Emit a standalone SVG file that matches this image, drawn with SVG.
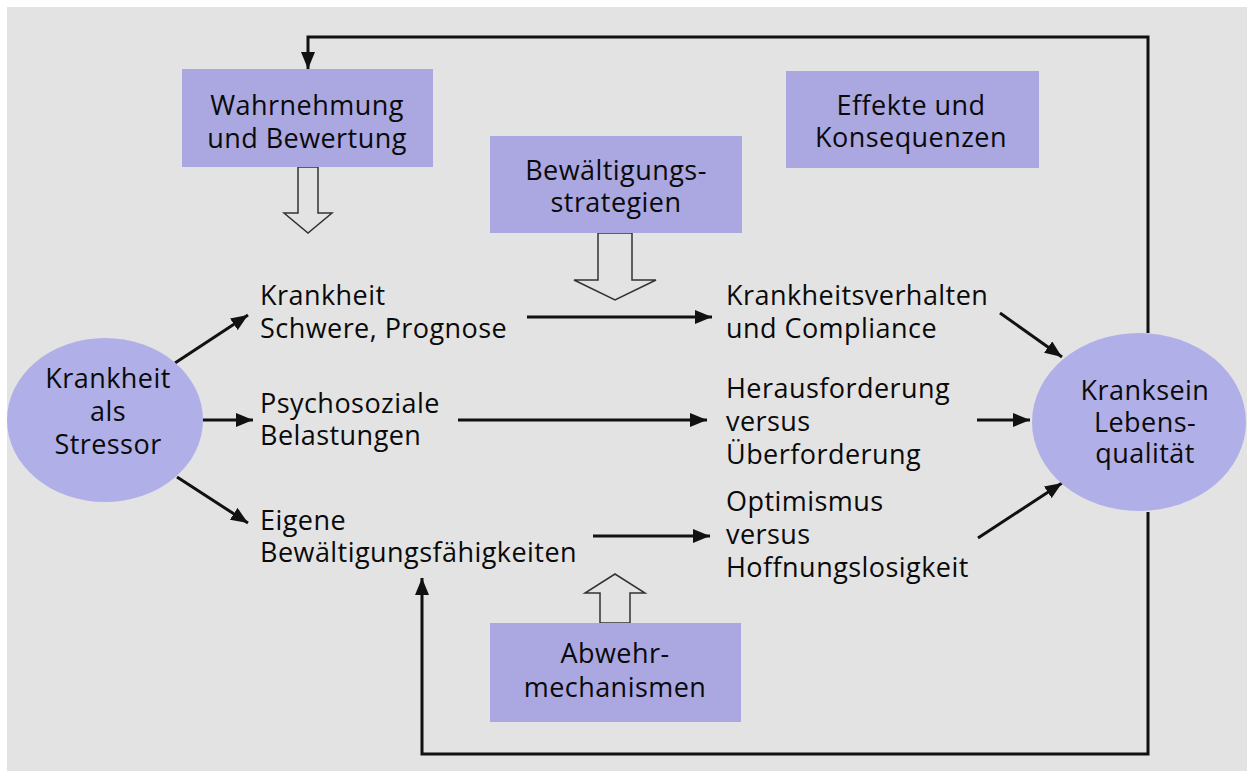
<svg xmlns="http://www.w3.org/2000/svg" width="1247" height="771" viewBox="0 0 1247 771">
<defs>
<style>
.bg{fill:#e3e3e3}
.box{fill:#aaa7e1}
.ell{fill:#b1afe7}
.t{font-family:"Open Sans","Noto Sans",sans-serif;font-size:27px;fill:#0a0a0a;letter-spacing:0.45px}
.c{text-anchor:middle}
.con{fill:none;stroke:#111;stroke-width:3}
.hol{fill:#e3e3e3;stroke:#333;stroke-width:1.5}
</style>
<marker id="ah" markerUnits="userSpaceOnUse" markerWidth="18" markerHeight="14" refX="17" refY="7" orient="auto">
<path d="M0,0 L17,7 L0,14 z" fill="#111"/>
</marker>
</defs>
<rect x="0" y="0" width="1247" height="771" fill="#ffffff"/>
<rect class="bg" x="7" y="7" width="1240" height="764"/>

<g id="connectors">
<line class="con" x1="175" y1="363" x2="248" y2="315" marker-end="url(#ah)"/>
<line class="con" x1="203" y1="420" x2="253" y2="420" marker-end="url(#ah)"/>
<line class="con" x1="177" y1="477" x2="248" y2="523" marker-end="url(#ah)"/>
<line class="con" x1="527" y1="317" x2="712" y2="317" marker-end="url(#ah)"/>
<line class="con" x1="458" y1="420" x2="707" y2="420" marker-end="url(#ah)"/>
<line class="con" x1="593" y1="536" x2="710" y2="536" marker-end="url(#ah)"/>
<line class="con" x1="1000" y1="313" x2="1062" y2="357" marker-end="url(#ah)"/>
<line class="con" x1="977" y1="420" x2="1030" y2="420" marker-end="url(#ah)"/>
<line class="con" x1="978" y1="538" x2="1062" y2="483" marker-end="url(#ah)"/>
<polyline class="con" points="1148,333 1148,37 308,37 308,69" marker-end="url(#ah)"/>
<polyline class="con" points="1148,512 1148,754 422,754 422,578" marker-end="url(#ah)"/>
<polygon class="hol" points="298,167 318,167 318,213 332,213 308,233 284,213 298,213"/>
<polygon class="hol" points="598,233 632,233 632,280 656,280 615,300 574,280 598,280"/>
<polygon class="hol" points="600,623 630,623 630,593 645,593 615,574 585,593 600,593"/>
</g>

<g id="stressor">
<ellipse class="ell" cx="105" cy="420" rx="98" ry="82"/>
<text class="t c" x="108" y="388">Krankheit</text>
<text class="t c" x="108" y="421">als</text>
<text class="t c" x="108" y="454">Stressor</text>
</g>

<g id="kranksein">
<ellipse class="ell" cx="1139" cy="422" rx="107" ry="89"/>
<text class="t c" x="1145" y="400">Kranksein</text>
<text class="t c" x="1145" y="432">Lebens-</text>
<text class="t c" x="1145" y="463">qualität</text>
</g>

<g id="wahrnehmung">
<rect class="box" x="182" y="69" width="251" height="98"/>
<text class="t c" x="307" y="115">Wahrnehmung</text>
<text class="t c" x="307" y="148">und Bewertung</text>
</g>

<g id="bewaeltigungsstrategien">
<rect class="box" x="490" y="136" width="252" height="97"/>
<text class="t c" x="616" y="180">Bewältigungs-</text>
<text class="t c" x="616" y="212">strategien</text>
</g>

<g id="effekte">
<rect class="box" x="786" y="71" width="253" height="97"/>
<text class="t c" x="911" y="115">Effekte und</text>
<text class="t c" x="911" y="147">Konsequenzen</text>
</g>

<g id="abwehr">
<rect class="box" x="490" y="623" width="251" height="99"/>
<text class="t c" x="615" y="663">Abwehr-</text>
<text class="t c" x="615" y="697">mechanismen</text>
</g>

<g id="krankheit">
<text class="t" x="260" y="305">Krankheit</text>
<text class="t" x="260" y="338">Schwere, Prognose</text>
</g>

<g id="psychosozial">
<text class="t" x="260" y="413">Psychosoziale</text>
<text class="t" x="260" y="445">Belastungen</text>
</g>

<g id="eigene">
<text class="t" x="260" y="530">Eigene</text>
<text class="t" x="260" y="562">Bewältigungsfähigkeiten</text>
</g>

<g id="verhalten">
<text class="t" x="726" y="305">Krankheitsverhalten</text>
<text class="t" x="726" y="338">und Compliance</text>
</g>

<g id="herausforderung">
<text class="t" x="726" y="398">Herausforderung</text>
<text class="t" x="726" y="431">versus</text>
<text class="t" x="726" y="464">Überforderung</text>
</g>

<g id="optimismus">
<text class="t" x="726" y="511">Optimismus</text>
<text class="t" x="726" y="544">versus</text>
<text class="t" x="726" y="577">Hoffnungslosigkeit</text>
</g>
</svg>
